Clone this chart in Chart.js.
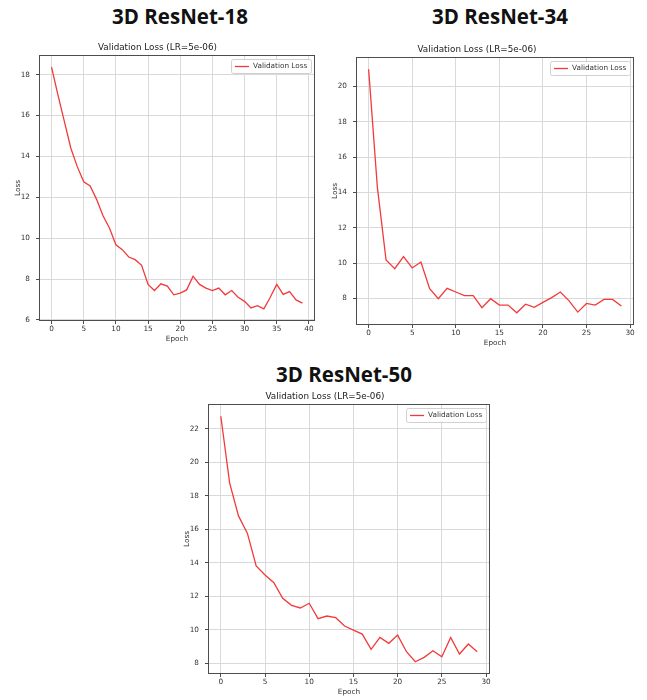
<!DOCTYPE html>
<html lang="en">
  <head>
    <meta charset="UTF-8" />
    <title>3D ResNet validation loss</title>
    <style>
      body { margin: 0; background: #fff; }
      #page { position: relative; width: 647px; height: 700px; overflow: hidden; background: #fff; }
      canvas { position: absolute; }
      .heading {
        position: absolute;
        font-family: "Open Sans", sans-serif;
        font-weight: 700;
        font-size: 20.5px;
        line-height: 1;
        color: #111;
        white-space: nowrap;
        transform: translate(-50%, -50%);
      }
    </style>
  </head>

  <body>
    <div id="page">
      <div class="heading" style="left: 180px; top: 16px">3D ResNet-18</div>
      <div class="heading" style="left: 500px; top: 16px">3D ResNet-34</div>
      <div class="heading" style="left: 344px; top: 374px">3D ResNet-50</div>

      <canvas id="chart18" width="330" height="320" style="left: 0; top: 30px"></canvas>
      <canvas id="chart34" width="327" height="320" style="left: 320px; top: 30px"></canvas>
      <canvas id="chart50" width="340" height="320" style="left: 160px; top: 380px"></canvas>
    </div>

    <script src="https://cdn.jsdelivr.net/npm/chart.js@4.4.0/dist/chart.umd.min.js"></script>
    <script>
      // values, one per epoch
      const loss18 = [18.37, 17.0, 15.7, 14.4, 13.5, 12.76, 12.55, 11.9, 11.1, 10.5,
        9.68, 9.44, 9.08, 8.95, 8.67, 7.74, 7.44, 7.77, 7.66, 7.23,
        7.31, 7.47, 8.14, 7.74, 7.56, 7.44, 7.56, 7.23, 7.44, 7.11,
        6.91, 6.59, 6.7, 6.54, 7.11, 7.74, 7.25, 7.39, 6.98, 6.82];
      const loss34 = [20.98, 14.3, 10.17, 9.68, 10.36, 9.72, 10.06, 8.55, 7.98, 8.57,
        8.36, 8.15, 8.15, 7.47, 7.98, 7.62, 7.62, 7.18, 7.67, 7.49,
        7.77, 8.04, 8.36, 7.86, 7.22, 7.71, 7.62, 7.94, 7.94, 7.56];
      const loss50 = [22.76, 18.77, 16.81, 15.78, 13.82, 13.28, 12.82, 11.89, 11.47, 11.31,
        11.59, 10.67, 10.83, 10.73, 10.23, 9.99, 9.75, 8.84, 9.55, 9.2,
        9.69, 8.7, 8.1, 8.36, 8.76, 8.4, 9.55, 8.56, 9.16, 8.7];

      const epochTicks40 = [0, 5, 10, 15, 20, 25, 30, 35, 40];
      const epochTicks30 = [0, 5, 10, 15, 20, 25, 30];
      const lossTicks18 = [6, 8, 10, 12, 14, 16, 18];
      const lossTicks34 = [8, 10, 12, 14, 16, 18, 20];
      const lossTicks50 = [8, 10, 12, 14, 16, 18, 20, 22];

      const chartTitle = "Validation Loss (LR=5e-06)";
      const seriesLabel = "Validation Loss";

      const fontFamily = "'DejaVu Sans', sans-serif";
      const textColor = "#333";
      const gridColor = "#d9d9d9";
      const spineColor = "#4d4d4d";
      const lineColor = "#f23a3a";
      const smallSize = 7.3;
      const titleSize = 8.8;

      // frame on all four sides plus a legend inside the top right corner
      const framePlugin = {
        id: "frameAndLegend",
        afterDraw(chart) {
          const ctx = chart.ctx;
          const a = chart.chartArea;
          const ds = chart.data.datasets[0];
          ctx.save();
          ctx.strokeStyle = spineColor;
          ctx.lineWidth = 1;
          ctx.strokeRect(Math.round(a.left) + 0.5, Math.round(a.top) + 0.5,
            Math.round(a.right - a.left) - 1, Math.round(a.bottom - a.top) - 1);

          ctx.font = smallSize + "px " + fontFamily;
          const tw = ctx.measureText(ds.label).width;
          const w = Math.round(tw + 26);
          const h = 14;
          const x = Math.round(a.right) - 4 - w;
          const y = Math.round(a.top) + 4;
          ctx.fillStyle = "rgba(255,255,255,0.85)";
          ctx.strokeStyle = "#d0d0d0";
          ctx.beginPath();
          ctx.roundRect(x + 0.5, y + 0.5, w, h, 2);
          ctx.fill();
          ctx.stroke();
          ctx.strokeStyle = ds.borderColor;
          ctx.lineWidth = 1.3;
          ctx.beginPath();
          ctx.moveTo(x + 4, y + h / 2 + 0.5);
          ctx.lineTo(x + 18, y + h / 2 + 0.5);
          ctx.stroke();
          ctx.fillStyle = textColor;
          ctx.textBaseline = "middle";
          ctx.textAlign = "left";
          ctx.fillText(ds.label, x + 22, y + h / 2 + 0.5);
          ctx.restore();
        },
      };

      function makeChart(id, values, xTicks, yTicks, box) {
        const n = values.length;
        const lo = Math.min(...values);
        const hi = Math.max(...values);
        const padY = (hi - lo) * 0.05;
        const padX = (n - 1) * 0.05;

        const small = { family: fontFamily, size: smallSize, lineHeight: 1.2 };
        const lh = smallSize * 1.2;
        const tlh = titleSize * 1.2;
        const yWidth = box.plotLeft - box.left;
        const xHeight = box.bottom - box.plotBottom;

        new Chart(document.getElementById(id), {
          type: "line",
          data: {
            datasets: [
              {
                label: seriesLabel,
                data: values.map((v, i) => ({ x: i, y: v })),
                borderColor: lineColor,
                borderWidth: 1.3,
                pointRadius: 0,
                tension: 0,
              },
            ],
          },
          options: {
            responsive: false,
            animation: false,
            devicePixelRatio: 1,
            layout: { padding: { left: 0, top: 0, bottom: 0, right: box.right - box.plotRight } },
            plugins: {
              legend: { display: false },
              tooltip: { enabled: false },
              title: {
                display: true,
                text: chartTitle,
                color: "#222",
                font: { family: fontFamily, size: titleSize, weight: "normal", lineHeight: 1.2 },
                padding: {
                  top: box.titleY - box.top - tlh / 2,
                  bottom: box.plotTop - box.titleY - tlh / 2,
                },
              },
            },
            scales: {
              x: {
                type: "linear",
                min: -padX,
                max: n - 1 + padX,
                afterBuildTicks: (s) => { s.ticks = xTicks.map((v) => ({ value: v })); },
                afterFit: (s) => { s.height = xHeight; },
                border: { display: false },
                grid: { color: gridColor, tickLength: 3, tickColor: spineColor },
                ticks: { font: small, color: textColor, padding: 1, maxRotation: 0, autoSkip: false },
                title: {
                  display: true,
                  text: "Epoch",
                  color: textColor,
                  font: small,
                  padding: { top: 0, bottom: xHeight - 18 - lh / 2 },
                },
              },
              y: {
                min: lo - padY,
                max: hi + padY,
                afterBuildTicks: (s) => { s.ticks = yTicks.map((v) => ({ value: v })); },
                afterFit: (s) => { s.width = yWidth; },
                border: { display: false },
                grid: { color: gridColor, tickLength: 3, tickColor: spineColor },
                ticks: { font: small, color: textColor, padding: 6, autoSkip: false },
                title: {
                  display: true,
                  text: "Loss",
                  color: textColor,
                  font: small,
                  padding: { top: yWidth - 21 - lh / 2, bottom: 0 },
                },
              },
            },
          },
          plugins: [framePlugin],
        });
      }

      makeChart("chart18", loss18, epochTicks40, lossTicks18,
        { left: 0, top: 30, right: 330, bottom: 350, plotLeft: 39, plotTop: 55, plotRight: 315, plotBottom: 321, titleY: 48 });
      makeChart("chart34", loss34, epochTicks30, lossTicks34,
        { left: 320, top: 30, right: 647, bottom: 350, plotLeft: 356, plotTop: 57, plotRight: 634, plotBottom: 325, titleY: 50 });
      makeChart("chart50", loss50, epochTicks30, lossTicks50,
        { left: 160, top: 380, right: 500, bottom: 700, plotLeft: 208, plotTop: 404, plotRight: 490, plotBottom: 674, titleY: 397 });
    </script>
  </body>
</html>
